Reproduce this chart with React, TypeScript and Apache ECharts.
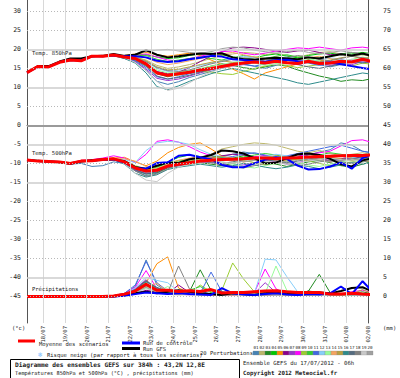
import React, { useEffect, useRef } from 'react';
import * as echarts from 'echarts';

// hours after 17/07/2012 06h
const HOURS = [0, 12, 24, 36, 48, 60, 72, 84, 96, 108, 120, 132, 144, 156, 168, 180, 192, 204, 216, 228, 240, 252, 264, 276, 288, 300, 312, 324, 336, 348, 360, 372, 384];
const DATE_LABELS = ['18/07', '19/07', '20/07', '21/07', '22/07', '23/07', '24/07', '25/07', '26/07', '27/07', '28/07', '29/07', '30/07', '31/07', '01/08', '02/08'];
const LEFT_TICKS = [30, 25, 20, 15, 10, 5, 0, -5, -10, -15, -20, -25, -30, -35, -40, -45];
const PERT_NAMES = ['01', '02', '03', '04', '05', '06', '07', '08', '09', '10', '11', '12', '13', '14', '15', '16', '17', '18', '19', '20'];
const PERT_COLORS = ['#4682b4', '#bdb76b', '#228b22', '#00c800', '#ff8c00', '#8b008b', '#9932cc', '#ff00ff', '#9acd32', '#32cd32', '#4169e1', '#87cefa', '#98fb98', '#f4a460', '#b8a040', '#2e8b8b', '#556b7f', '#808080', '#c8c8c8', '#a0a0a0'];

// Temperature 850 hPa (°C)
const T850_MEAN = [13.9, 15.5, 15.4, 16.6, 17.2, 17.0, 18.2, 18.2, 18.5, 18.0, 17.6, 16.2, 13.8, 13.2, 13.6, 14.0, 14.6, 15.0, 15.5, 16.0, 16.4, 16.7, 16.4, 16.9, 16.5, 16.3, 16.9, 16.3, 16.4, 16.9, 16.7, 17.4, 16.7];
const T850_GFS = [13.9, 15.6, 15.6, 16.8, 17.6, 17.6, 18.2, 18.3, 18.8, 18.3, 18.6, 19.8, 18.6, 17.9, 18.2, 18.6, 18.9, 18.8, 19.0, 17.9, 17.4, 17.3, 17.6, 17.8, 17.6, 17.4, 17.9, 17.6, 18.2, 18.7, 18.4, 18.9, 18.2];
const T850_CTRL = [13.9, 15.4, 15.4, 16.6, 17.2, 17.1, 18.2, 18.2, 18.4, 18.2, 18.2, 17.9, 17.0, 16.7, 16.9, 17.4, 17.8, 18.3, 18.1, 17.4, 17.2, 16.9, 16.7, 17.2, 17.3, 16.9, 16.7, 16.4, 16.6, 16.1, 15.6, 15.1, 14.7];
const T850_PERTS = [
  [13.9, 15.4, 15.5, 16.5, 17.0, 17.2, 18.0, 18.4, 18.3, 17.6, 16.8, 14.5, 11.6, 10.8, 11.5, 12.6, 13.4, 14.2, 15.0, 15.8, 16.2, 15.6, 15.0, 15.8, 16.6, 17.2, 16.8, 16.0, 15.4, 16.0, 16.8, 17.6, 17.0],
  [13.9, 15.5, 15.3, 16.7, 17.3, 17.1, 18.3, 18.0, 18.6, 18.2, 18.0, 17.2, 15.8, 15.0, 15.4, 16.0, 16.8, 17.6, 18.4, 18.8, 19.2, 19.0, 18.6, 19.0, 18.4, 18.0, 18.6, 19.2, 19.4, 18.8, 18.2, 18.6, 18.0],
  [13.9, 15.6, 15.4, 16.6, 17.2, 17.0, 18.2, 18.4, 18.6, 18.2, 17.4, 15.8, 13.6, 12.8, 13.4, 14.2, 14.8, 15.6, 16.2, 15.8, 15.2, 14.8, 15.4, 16.0, 15.6, 14.6, 13.8, 13.0, 12.4, 11.6, 12.0, 11.8, 12.4],
  [13.9, 15.4, 15.5, 16.6, 17.1, 17.0, 18.1, 18.3, 18.4, 18.0, 18.2, 18.6, 18.0, 17.6, 17.8, 18.4, 18.8, 19.0, 18.6, 18.0, 17.6, 17.8, 18.4, 18.8, 18.2, 17.8, 18.4, 18.8, 19.0, 18.6, 18.8, 19.2, 18.8],
  [13.9, 15.5, 15.4, 16.7, 17.3, 17.2, 18.3, 18.2, 18.5, 18.4, 18.8, 19.2, 18.6, 18.2, 18.6, 19.0, 18.4, 17.2, 16.0, 14.8, 13.6, 12.2, 13.8, 14.6, 15.4, 16.2, 16.8, 17.2, 16.6, 16.2, 16.8, 17.4, 17.0],
  [13.9, 15.5, 15.5, 16.6, 17.2, 17.1, 18.2, 18.3, 18.5, 18.1, 17.4, 16.0, 14.2, 13.6, 14.0, 15.2, 16.8, 18.2, 19.4, 20.4, 20.6, 20.4, 20.0, 19.6, 19.2, 19.6, 19.8, 19.2, 18.6, 18.8, 19.2, 18.8, 18.4],
  [13.9, 15.4, 15.4, 16.5, 17.2, 17.0, 18.2, 18.2, 18.4, 17.8, 16.8, 14.8, 12.4, 11.8, 12.2, 13.0, 13.8, 14.6, 15.2, 15.6, 16.0, 16.6, 17.2, 16.8, 16.4, 16.0, 16.6, 16.2, 15.8, 16.4, 16.0, 16.8, 16.2],
  [13.9, 15.5, 15.4, 16.6, 17.2, 17.0, 18.3, 18.1, 18.6, 18.2, 18.4, 18.8, 18.0, 17.2, 17.0, 17.6, 18.2, 18.8, 19.4, 19.6, 19.0, 18.6, 19.0, 19.6, 20.0, 20.4, 20.2, 20.6, 20.2, 19.8, 20.4, 20.6, 20.2],
  [13.9, 15.5, 15.4, 16.6, 17.1, 17.1, 18.2, 18.2, 18.5, 17.9, 17.2, 15.6, 13.8, 13.0, 13.2, 13.8, 14.2, 14.0, 13.6, 13.4, 14.2, 15.0, 15.6, 16.2, 15.8, 15.2, 15.6, 16.0, 16.4, 16.0, 15.6, 16.4, 16.0],
  [13.9, 15.6, 15.5, 16.7, 17.2, 17.0, 18.2, 18.3, 18.5, 18.3, 18.6, 18.4, 17.4, 16.8, 17.2, 17.6, 18.0, 17.6, 17.2, 17.8, 18.4, 18.0, 17.6, 18.2, 18.6, 18.0, 17.4, 17.8, 18.2, 18.8, 19.2, 18.6, 19.0],
  [13.9, 15.4, 15.4, 16.6, 17.2, 17.1, 18.2, 18.2, 18.4, 17.8, 17.0, 15.2, 12.8, 12.2, 12.8, 13.6, 14.2, 15.0, 15.8, 16.4, 16.0, 15.6, 16.2, 16.8, 17.4, 17.0, 16.4, 15.8, 16.2, 16.8, 17.2, 16.6, 17.4],
  [13.9, 15.5, 15.3, 16.5, 17.2, 17.0, 18.1, 18.2, 18.6, 18.1, 17.8, 16.8, 15.0, 14.2, 14.6, 15.2, 15.8, 16.4, 17.0, 17.6, 18.2, 17.8, 17.2, 17.6, 18.0, 17.4, 16.8, 17.2, 17.8, 17.4, 16.8, 17.2, 16.6],
  [13.9, 15.5, 15.4, 16.6, 17.3, 17.1, 18.2, 18.2, 18.5, 18.0, 17.6, 16.4, 14.6, 13.8, 14.0, 14.4, 15.0, 15.6, 16.0, 16.6, 17.0, 16.4, 15.8, 16.2, 16.8, 17.2, 17.6, 17.0, 16.4, 16.8, 17.4, 18.0, 17.4],
  [13.9, 15.4, 15.5, 16.6, 17.2, 17.0, 18.2, 18.3, 18.5, 18.2, 18.4, 17.8, 16.6, 16.0, 16.4, 17.0, 17.6, 18.2, 18.8, 19.2, 18.6, 18.0, 17.6, 17.2, 16.8, 17.2, 17.8, 18.2, 17.6, 17.0, 16.6, 17.2, 16.8],
  [13.9, 15.5, 15.4, 16.6, 17.2, 17.0, 18.2, 18.2, 18.5, 18.1, 17.9, 17.0, 15.4, 14.6, 14.8, 15.4, 16.0, 16.6, 17.0, 16.6, 16.2, 16.8, 17.4, 18.0, 17.6, 17.0, 16.4, 16.8, 17.2, 17.8, 18.2, 17.6, 18.0],
  [13.9, 15.5, 15.4, 16.6, 17.2, 17.0, 18.2, 18.1, 18.4, 17.6, 16.4, 13.8, 10.2, 9.4, 10.4, 11.6, 12.6, 13.6, 14.4, 15.0, 14.4, 13.8, 13.2, 12.6, 12.0, 11.2, 10.8, 11.4, 12.0, 12.6, 13.2, 13.8, 13.4],
  [13.9, 15.5, 15.5, 16.7, 17.2, 17.1, 18.2, 18.2, 18.5, 18.0, 17.2, 15.6, 13.0, 12.2, 12.6, 13.2, 14.0, 14.8, 15.4, 16.0, 16.6, 17.2, 17.6, 17.2, 16.6, 16.0, 15.4, 15.0, 15.6, 16.2, 16.8, 16.4, 17.0],
  [13.9, 15.4, 15.4, 16.6, 17.1, 17.0, 18.2, 18.2, 18.4, 18.0, 17.6, 16.8, 15.2, 14.4, 14.2, 14.6, 15.4, 16.2, 16.8, 17.4, 17.8, 17.4, 16.8, 17.2, 17.8, 18.4, 18.0, 17.4, 17.0, 17.6, 18.2, 17.8, 17.4],
  [13.9, 15.5, 15.4, 16.6, 17.2, 17.0, 18.2, 18.2, 18.5, 17.8, 16.6, 14.4, 11.6, 9.2, 9.8, 11.2, 12.8, 14.0, 15.0, 15.6, 16.2, 16.8, 16.4, 16.0, 16.6, 17.2, 17.0, 16.6, 16.2, 16.8, 17.4, 17.0, 16.6],
  [13.9, 15.5, 15.4, 16.6, 17.2, 17.0, 18.2, 18.3, 18.5, 18.3, 18.8, 19.4, 19.8, 20.0, 19.6, 19.2, 19.0, 19.4, 20.2, 20.6, 20.4, 19.8, 19.4, 19.0, 19.4, 19.8, 19.2, 18.8, 19.2, 19.6, 19.2, 18.8, 19.2],
];

// Temperature 500 hPa (°C)
const T500_MEAN = [-9.1, -9.4, -9.5, -9.6, -10.0, -9.4, -9.3, -9.0, -8.8, -9.6, -11.2, -12.0, -11.8, -10.7, -10.2, -9.8, -9.4, -9.2, -9.0, -8.9, -8.8, -8.6, -8.6, -8.8, -8.6, -8.5, -8.3, -8.2, -8.1, -8.0, -7.9, -7.9, -7.7];
const T500_GFS = [-9.1, -9.3, -9.5, -9.7, -10.1, -9.5, -9.2, -9.0, -8.9, -9.4, -11.0, -11.4, -10.6, -9.8, -9.9, -8.9, -8.5, -7.8, -6.6, -6.8, -7.4, -8.6, -10.0, -9.8, -8.6, -7.6, -7.4, -7.8, -8.8, -10.2, -10.8, -9.2, -8.6];
const T500_CTRL = [-9.1, -9.4, -9.5, -9.6, -10.0, -9.4, -9.3, -9.0, -8.9, -9.8, -11.2, -11.4, -9.9, -9.7, -8.0, -7.7, -8.4, -8.9, -10.4, -11.0, -11.0, -10.0, -9.0, -8.4, -8.8, -10.6, -11.6, -11.5, -10.8, -9.8, -11.4, -8.6, -7.6];
const T500_PERTS = [
  [-9.1, -9.3, -9.6, -9.7, -10.2, -10.0, -10.8, -10.6, -9.6, -10.0, -12.0, -13.2, -12.6, -11.0, -10.4, -9.6, -8.8, -8.4, -8.2, -7.6, -7.0, -7.4, -8.0, -8.6, -9.2, -8.6, -7.8, -7.0, -6.4, -4.6, -5.2, -6.8, -7.4],
  [-9.1, -9.4, -9.4, -9.5, -9.9, -9.3, -9.2, -8.9, -8.6, -9.2, -10.6, -11.4, -11.0, -9.8, -9.2, -8.8, -8.6, -7.6, -6.2, -5.6, -5.0, -4.6, -4.8, -5.2, -6.0, -6.8, -7.2, -6.6, -7.4, -8.0, -7.6, -7.2, -7.8],
  [-9.2, -9.5, -9.6, -9.8, -10.1, -9.5, -9.4, -9.1, -8.9, -9.8, -11.8, -12.8, -12.4, -11.2, -10.6, -10.2, -9.8, -10.2, -10.6, -10.0, -9.4, -9.0, -9.6, -10.2, -10.8, -10.2, -9.6, -9.2, -9.8, -10.6, -11.0, -10.2, -9.4],
  [-9.1, -9.4, -9.5, -9.6, -10.0, -9.4, -9.3, -9.0, -8.8, -9.4, -10.8, -11.6, -11.2, -9.6, -8.4, -7.8, -8.2, -8.8, -9.2, -8.6, -8.0, -8.4, -9.0, -9.4, -8.8, -8.2, -7.6, -8.0, -8.6, -9.0, -8.4, -7.8, -8.2],
  [-9.0, -9.3, -9.4, -9.5, -9.8, -9.2, -9.0, -8.8, -8.6, -8.4, -9.6, -10.6, -9.4, -7.2, -5.8, -5.0, -4.6, -6.2, -8.0, -9.0, -9.6, -9.2, -8.6, -9.0, -9.4, -8.8, -8.4, -8.8, -9.6, -9.2, -8.6, -9.2, -9.8],
  [-9.1, -9.4, -9.5, -9.6, -10.0, -9.5, -9.3, -9.1, -8.9, -9.7, -11.4, -12.2, -11.6, -10.4, -9.8, -9.2, -8.8, -8.6, -8.0, -7.6, -7.8, -8.4, -9.0, -8.6, -8.2, -7.8, -8.2, -8.8, -9.2, -8.8, -8.2, -8.6, -8.0],
  [-9.1, -9.5, -9.6, -9.7, -10.1, -9.4, -9.3, -9.0, -8.8, -9.8, -11.8, -12.6, -12.2, -11.0, -10.6, -10.0, -9.6, -9.8, -10.2, -10.8, -10.4, -9.8, -9.2, -9.6, -10.2, -9.8, -9.2, -8.8, -9.4, -9.0, -8.6, -9.2, -8.8],
  [-9.0, -9.4, -9.5, -9.6, -9.9, -9.2, -9.0, -8.6, -8.0, -8.6, -9.8, -7.6, -4.2, -3.8, -4.4, -5.6, -7.0, -8.0, -8.6, -9.0, -8.6, -8.2, -8.0, -8.4, -8.8, -8.2, -7.6, -7.2, -6.8, -5.4, -4.0, -3.8, -4.6],
  [-9.1, -9.4, -9.5, -9.6, -10.0, -9.4, -9.2, -9.0, -8.8, -9.6, -11.0, -12.0, -11.4, -10.6, -10.0, -9.4, -9.0, -8.8, -8.4, -8.8, -9.2, -9.8, -10.4, -10.0, -9.4, -8.8, -9.4, -10.0, -10.6, -10.2, -9.6, -9.0, -8.6],
  [-9.1, -9.4, -9.5, -9.6, -10.0, -9.4, -9.3, -9.0, -8.8, -9.6, -11.2, -11.8, -11.0, -9.8, -9.4, -9.0, -8.4, -8.0, -8.4, -8.8, -8.4, -7.8, -7.4, -7.8, -8.4, -8.8, -8.4, -7.8, -7.2, -7.6, -8.2, -7.8, -7.4],
  [-9.1, -9.4, -9.6, -9.7, -10.1, -9.5, -9.4, -9.1, -8.9, -9.8, -11.6, -12.4, -12.0, -10.8, -10.0, -9.6, -9.2, -9.0, -8.6, -8.2, -7.6, -7.2, -7.8, -8.4, -8.0, -7.4, -6.8, -6.2, -5.6, -5.2, -6.0, -6.8, -7.2],
  [-9.1, -9.4, -9.5, -9.6, -10.0, -9.3, -9.2, -8.9, -8.7, -9.0, -9.8, -6.6, -4.6, -4.2, -4.4, -5.0, -6.4, -7.6, -8.2, -8.6, -9.0, -8.6, -8.2, -7.6, -8.0, -8.6, -9.2, -8.8, -8.2, -7.8, -8.4, -9.0, -8.6],
  [-9.1, -9.4, -9.5, -9.6, -10.0, -9.4, -9.3, -9.0, -8.8, -9.6, -11.0, -11.8, -11.2, -10.2, -9.6, -9.2, -8.8, -9.2, -9.6, -10.2, -10.8, -11.2, -10.6, -10.0, -9.4, -9.8, -10.4, -10.8, -10.2, -9.6, -9.2, -9.6, -9.0],
  [-9.0, -9.3, -9.4, -9.5, -9.9, -9.3, -9.1, -8.9, -8.7, -8.8, -9.4, -10.8, -11.4, -10.2, -9.2, -8.6, -8.2, -8.6, -9.0, -9.4, -9.0, -8.4, -8.8, -9.2, -8.6, -8.0, -8.6, -9.0, -8.4, -8.0, -8.6, -9.2, -8.8],
  [-9.1, -9.4, -9.5, -9.6, -10.0, -9.4, -9.3, -9.0, -8.8, -9.6, -11.2, -12.0, -11.6, -10.4, -9.8, -9.4, -9.0, -8.6, -8.2, -8.6, -9.0, -8.8, -8.4, -8.0, -8.4, -8.8, -9.2, -8.8, -8.4, -8.8, -9.2, -8.8, -8.4],
  [-9.2, -9.5, -9.6, -9.8, -10.2, -9.6, -9.4, -9.2, -9.0, -10.2, -12.6, -13.6, -13.0, -11.6, -11.0, -10.6, -10.2, -10.6, -11.0, -10.6, -10.0, -10.4, -11.0, -11.4, -11.0, -10.4, -10.8, -11.4, -11.0, -10.4, -9.8, -10.2, -9.6],
  [-9.1, -9.4, -9.5, -9.7, -10.0, -9.4, -9.3, -9.1, -8.9, -9.8, -11.6, -12.8, -12.2, -10.8, -10.2, -9.6, -9.2, -9.6, -10.0, -9.6, -9.0, -8.6, -9.0, -9.4, -9.8, -9.4, -8.8, -8.4, -8.8, -9.2, -8.8, -8.4, -8.8],
  [-9.1, -9.4, -9.5, -9.6, -10.0, -9.4, -9.3, -9.0, -8.8, -9.8, -12.0, -13.4, -12.8, -11.4, -10.4, -9.8, -9.4, -9.8, -10.4, -10.8, -11.2, -10.6, -10.0, -9.6, -10.0, -10.6, -10.2, -9.6, -9.2, -9.6, -10.0, -9.6, -9.2],
  [-9.1, -9.4, -9.6, -9.7, -10.1, -9.5, -9.4, -9.1, -8.9, -10.0, -12.6, -14.4, -14.8, -12.6, -11.0, -10.2, -9.6, -9.2, -9.6, -10.0, -9.4, -9.0, -9.4, -9.8, -10.2, -9.8, -9.4, -9.0, -8.6, -9.0, -9.4, -9.0, -8.8],
  [-9.1, -9.4, -9.5, -9.6, -10.0, -9.4, -9.3, -9.0, -8.8, -9.6, -11.4, -12.4, -12.0, -10.8, -10.2, -9.8, -9.4, -9.0, -8.8, -9.2, -9.6, -9.2, -8.8, -9.2, -9.6, -9.2, -8.8, -9.2, -9.6, -9.2, -8.8, -9.2, -8.6],
];

// Precipitation (mm), drawn on the right scale (0 mm = -45 on the left scale)
const PRECIP_OFFSET = -45;
const PR_MEAN = [0, 0, 0, 0, 0, 0, 0, 0, 0.1, 0.6, 1.4, 3.2, 1.6, 1.6, 1.3, 1.5, 1.3, 1.8, 0.9, 1.0, 1.0, 1.2, 1.4, 1.5, 1.2, 1.0, 1.0, 1.0, 0.6, 0.6, 0.8, 0.6, 0.5];
const PR_GFS = [0, 0, 0, 0, 0, 0, 0, 0, 0, 0.3, 0.8, 1.2, 0.8, 1.2, 1.6, 1.2, 0.8, 0.6, 0.4, 0.8, 0.6, 0.4, 0.8, 1.0, 0.6, 0.8, 1.2, 1.0, 0.8, 1.4, 2.2, 2.4, 1.2];
const PR_CTRL = [0, 0, 0, 0, 0, 0, 0, 0, 0, 0.2, 0.6, 1.0, 0.8, 0.6, 0.8, 0.6, 0.5, 0.4, 2.2, 0.8, 0.5, 0.4, 0.6, 0.8, 0.5, 0.4, 0.6, 0.5, 0.8, 2.6, 0.6, 4.0, 1.0];
const PR_PERTS = [
  [0, 0, 0, 0, 0, 0, 0, 0, 0.2, 0.8, 2.6, 9.6, 3.0, 1.2, 0.6, 0.8, 1.4, 0.6, 0.4, 0.6, 0.3, 0.2, 0.5, 0.8, 0.4, 0.3, 0.6, 0.4, 0.3, 0.5, 0.4, 0.3, 0.4],
  [0, 0, 0, 0, 0, 0, 0, 0, 0.1, 0.4, 1.2, 2.4, 1.0, 0.6, 0.4, 0.5, 0.3, 0.4, 0.6, 0.4, 0.2, 0.3, 0.4, 0.3, 0.2, 0.6, 0.4, 0.3, 0.2, 0.4, 0.3, 0.2, 0.3],
  [0, 0, 0, 0, 0, 0, 0, 0, 0.2, 0.6, 1.8, 4.2, 2.0, 1.0, 0.8, 1.2, 7.0, 1.6, 0.8, 0.6, 0.4, 0.6, 1.0, 0.8, 0.6, 0.8, 1.4, 5.8, 1.0, 0.4, 0.8, 1.2, 0.6],
  [0, 0, 0, 0, 0, 0, 0, 0, 0.1, 0.5, 1.4, 3.0, 1.6, 0.8, 1.0, 0.7, 0.5, 0.6, 1.2, 0.8, 0.5, 0.4, 0.8, 1.6, 0.6, 0.4, 0.6, 0.8, 0.4, 0.3, 0.5, 0.4, 0.6],
  [0, 0, 0, 0, 0, 0, 0, 0, 0.1, 0.4, 1.0, 3.6, 8.6, 10.4, 2.2, 1.0, 0.6, 0.8, 0.4, 0.3, 0.6, 0.5, 0.3, 0.4, 0.6, 0.4, 0.3, 0.5, 0.4, 0.6, 0.3, 0.4, 0.3],
  [0, 0, 0, 0, 0, 0, 0, 0, 0, 0.3, 0.8, 1.6, 1.2, 0.8, 3.0, 1.0, 0.6, 0.4, 0.3, 0.5, 0.4, 0.6, 0.4, 0.3, 0.5, 0.4, 0.3, 0.6, 0.4, 0.3, 0.5, 0.6, 0.4],
  [0, 0, 0, 0, 0, 0, 0, 0, 0.1, 0.6, 2.0, 4.4, 1.4, 0.8, 0.6, 0.4, 0.6, 0.4, 0.5, 0.4, 0.3, 0.8, 3.6, 1.0, 0.4, 0.3, 0.4, 0.6, 0.3, 0.4, 0.3, 0.5, 0.4],
  [0, 0, 0, 0, 0, 0, 0, 0, 0.2, 0.8, 2.4, 6.8, 2.0, 1.0, 0.6, 0.8, 0.5, 0.4, 0.6, 0.4, 0.3, 1.0, 7.2, 2.0, 0.6, 0.4, 0.3, 0.5, 0.8, 0.6, 1.2, 1.6, 1.0],
  [0, 0, 0, 0, 0, 0, 0, 0, 0.1, 0.4, 1.2, 2.8, 1.4, 0.8, 0.6, 0.8, 3.0, 1.2, 1.6, 8.8, 4.6, 1.2, 0.8, 0.6, 0.4, 0.6, 0.4, 0.3, 0.5, 0.4, 0.3, 0.6, 0.4],
  [0, 0, 0, 0, 0, 0, 0, 0, 0.2, 0.6, 1.6, 3.4, 1.8, 1.0, 0.8, 1.6, 2.6, 1.0, 0.6, 0.5, 0.4, 0.6, 0.5, 0.8, 0.6, 0.4, 0.8, 0.6, 0.4, 0.6, 0.5, 0.8, 0.6],
  [0, 0, 0, 0, 0, 0, 0, 0, 0.2, 0.8, 3.0, 9.2, 3.6, 1.4, 0.8, 0.6, 0.8, 6.4, 1.2, 0.6, 0.4, 0.5, 0.4, 0.6, 0.4, 0.6, 0.4, 0.3, 0.4, 0.6, 0.4, 0.3, 0.5],
  [0, 0, 0, 0, 0, 0, 0, 0, 0.1, 0.6, 2.2, 5.0, 4.2, 3.6, 1.2, 0.8, 0.6, 0.5, 0.4, 0.6, 0.5, 0.8, 9.8, 9.6, 5.2, 1.2, 0.6, 0.5, 0.4, 0.6, 0.4, 0.5, 0.4],
  [0, 0, 0, 0, 0, 0, 0, 0, 0.1, 0.4, 1.0, 2.2, 1.2, 2.6, 0.8, 0.6, 0.4, 0.6, 0.8, 0.6, 0.4, 0.6, 0.8, 8.0, 1.6, 0.8, 0.6, 0.4, 0.6, 0.4, 0.6, 0.5, 0.6],
  [0, 0, 0, 0, 0, 0, 0, 0, 0.1, 0.5, 1.4, 2.6, 3.4, 1.2, 0.6, 0.8, 0.6, 0.4, 0.5, 0.4, 0.3, 0.4, 0.6, 0.4, 0.3, 0.5, 0.4, 0.6, 0.4, 0.3, 0.4, 0.6, 0.8],
  [0, 0, 0, 0, 0, 0, 0, 0, 0.1, 0.4, 1.2, 3.2, 1.6, 1.0, 0.8, 0.6, 0.5, 0.4, 0.6, 0.5, 0.4, 0.6, 0.4, 0.5, 0.4, 0.6, 0.5, 0.4, 0.5, 0.4, 0.6, 1.8, 0.6],
  [0, 0, 0, 0, 0, 0, 0, 0, 0.2, 0.6, 1.6, 3.8, 2.4, 1.2, 0.8, 1.0, 0.8, 0.6, 0.4, 0.6, 0.4, 0.5, 0.6, 0.4, 0.5, 0.4, 0.6, 0.4, 0.5, 0.6, 0.4, 0.6, 0.5],
  [0, 0, 0, 0, 0, 0, 0, 0, 0.2, 0.6, 1.8, 4.0, 2.2, 1.4, 1.0, 0.8, 0.6, 0.5, 0.4, 0.5, 0.4, 0.3, 0.5, 0.4, 0.6, 0.4, 0.3, 0.5, 0.4, 0.6, 0.5, 0.4, 0.6],
  [0, 0, 0, 0, 0, 0, 0, 0, 0.1, 0.5, 1.4, 2.8, 1.6, 1.0, 8.0, 2.0, 0.8, 0.6, 0.5, 0.4, 0.6, 0.5, 0.4, 0.6, 0.4, 0.5, 0.4, 0.6, 0.5, 0.4, 0.5, 0.4, 0.5],
  [0, 0, 0, 0, 0, 0, 0, 0, 0.1, 0.4, 1.0, 2.0, 1.4, 0.8, 0.6, 0.5, 0.4, 0.6, 0.5, 0.4, 0.3, 0.5, 0.4, 0.3, 0.4, 0.5, 0.4, 0.3, 0.4, 0.5, 0.4, 0.3, 0.4],
  [0, 0, 0, 0, 0, 0, 0, 0, 0.1, 0.4, 1.2, 2.4, 1.2, 0.8, 1.6, 0.8, 0.6, 0.5, 0.4, 0.6, 0.5, 0.4, 0.6, 0.5, 0.4, 0.6, 0.4, 0.5, 0.6, 0.4, 0.5, 0.6, 0.4],
];

const MONO = "'DejaVu Sans Mono', monospace";
const TXT = '#222';

function pts(vals: number[], off = 0) {
  return HOURS.map((h, i) => [h, vals[i] + off]);
}

function buildOption() {
  const series: any[] = [];
  const hLines: any[] = [];
  LEFT_TICKS.forEach((v) => {
    if (v === 0) {
      hLines.push({ yAxis: v, lineStyle: { color: '#9a9a9a', width: 2, type: 'solid' } });
    } else if ([20, 10, -5, -15, -40].includes(v)) {
      hLines.push({ yAxis: v, lineStyle: { color: '#cccccc', width: 1.5, type: 'solid' } });
    } else {
      hLines.push({ yAxis: v, lineStyle: { color: '#b8b8b8', width: 1, type: [1, 2] } });
    }
  });
  const vLines = DATE_LABELS.slice(0, DATE_LABELS.length - 1).map((_, i) => ({
    xAxis: 18 + 24 * i,
    lineStyle: { color: '#d8d8d8', width: 1, type: 'solid' },
  }));
  series.push({
    type: 'line',
    data: [[0, null]],
    symbol: 'none',
    z: 1,
    silent: true,
    markLine: {
      silent: true,
      symbol: ['none', 'none'],
      label: { show: false },
      animation: false,
      data: [...vLines, ...hLines],
    },
  });

  const addGroup = (perts: number[][], gfs: number[], ctrl: number[], mean: number[], off: number) => {
    perts.forEach((p, i) => {
      series.push({
        type: 'line',
        data: pts(p, off),
        symbol: 'none',
        z: 2,
        silent: true,
        lineStyle: { width: 1, color: PERT_COLORS[i] },
      });
    });
    series.push({ type: 'line', data: pts(gfs, off), symbol: 'none', z: 3, silent: true, lineStyle: { width: 2, color: '#000000' } });
    series.push({ type: 'line', data: pts(ctrl, off), symbol: 'none', z: 3, silent: true, lineStyle: { width: 2, color: '#0000ff' } });
    series.push({ type: 'line', data: pts(mean, off), symbol: 'none', z: 4, silent: true, lineStyle: { width: 3, color: '#ff0000' } });
  };
  addGroup(T850_PERTS, T850_GFS, T850_CTRL, T850_MEAN, 0);
  addGroup(T500_PERTS, T500_GFS, T500_CTRL, T500_MEAN, 0);
  addGroup(PR_PERTS, PR_GFS, PR_CTRL, PR_MEAN, PRECIP_OFFSET);

  const isTick = (v: number) => LEFT_TICKS.includes(v);

  const txt = (text: string, x: number, y: number, size = 5.5, bold = false, fill = TXT) => ({
    type: 'text',
    x,
    y,
    z: 100,
    silent: true,
    style: {
      text,
      fill,
      font: `${bold ? 'bold ' : ''}${size}px ${MONO}`,
      align: 'left',
      verticalAlign: 'middle',
    },
  });

  const graphics: any[] = [
    txt('(°c)', 12, 328, 5.5),
    txt('(mm)', 383, 328, 5.5),
    txt('Temp. 850hPa', 32, 53, 5.5),
    txt('Temp. 500hPa', 32, 153, 5.5),
    txt('Précipitations', 32, 289, 5.5),
    { type: 'line', shape: { x1: 18, y1: 341, x2: 35, y2: 341 }, style: { stroke: '#ff0000', lineWidth: 3 }, z: 100 },
    txt('Moyenne des scénarios', 39, 344),
    { type: 'line', shape: { x1: 122, y1: 343, x2: 140, y2: 343 }, style: { stroke: '#0000ff', lineWidth: 3 }, z: 100 },
    txt('Run de contrôle', 143, 343),
    { type: 'line', shape: { x1: 122, y1: 348.5, x2: 140, y2: 348.5 }, style: { stroke: '#000000', lineWidth: 3 }, z: 100 },
    txt('Run GFS', 143, 349),
    txt('20 Perturbations', 200, 353),
    txt('❄', 38, 355, 7, false, '#7fbfff'),
    txt('Risque neige (par rapport à tous les scénarios)', 47, 355),
    { type: 'rect', shape: { x: 10.5, y: 359.5, width: 229, height: 30 }, style: { fill: 'none', stroke: '#000', lineWidth: 1 }, z: 100 },
    txt('Diagramme des ensembles GEFS sur 384h : 43,2N 12,8E', 15, 364, 6.2, true),
    txt('Températures 850hPa et 500hPa (°C) , précipitations (mm)', 15, 372.5, 5.3),
    txt('Ensemble GEFS du 17/07/2012 - 06h', 243, 363, 5.6),
    txt('Copyright 2012 Meteociel.fr', 243, 373, 5.8, true),
  ];
  PERT_NAMES.forEach((n, i) => {
    graphics.push(txt(n, 253.5 + i * 6, 347.5, 4.2));
    graphics.push({
      type: 'rect',
      shape: { x: 253 + i * 6, y: 351, width: 6, height: 4 },
      style: { fill: PERT_COLORS[i], stroke: '#888', lineWidth: 0.3 },
      z: 100,
    });
  });

  return {
    animation: false,
    backgroundColor: '#ffffff',
    grid: { left: 27, right: 32, top: 0, bottom: 55, containLabel: false },
    xAxis: {
      type: 'value',
      min: 0,
      max: 378,
      interval: 6,
      axisLine: { show: true, lineStyle: { color: '#555', width: 1 } },
      axisTick: { show: false },
      splitLine: { show: false },
      axisLabel: {
        show: true,
        rotate: 90,
        margin: 3,
        fontSize: 5.5,
        fontFamily: MONO,
        color: TXT,
        showMinLabel: false,
        formatter: (v: number) => {
          const k = (v - 18) / 24;
          return Number.isInteger(k) && k >= 0 && k < DATE_LABELS.length ? DATE_LABELS[k] : '';
        },
      },
    },
    yAxis: [
      {
        type: 'value',
        min: -52,
        max: 33,
        interval: 1,
        position: 'left',
        axisLine: { show: true, lineStyle: { color: '#555', width: 1 } },
        axisTick: { show: false },
        splitLine: { show: false },
        axisLabel: {
          margin: 6,
          fontSize: 6.5,
          fontFamily: MONO,
          color: TXT,
          formatter: (v: number) => (isTick(v) ? String(v) : ''),
        },
      },
      {
        type: 'value',
        min: -52,
        max: 33,
        interval: 1,
        position: 'right',
        axisLine: { show: true, lineStyle: { color: '#555', width: 1 } },
        axisTick: { show: false },
        splitLine: { show: false },
        axisLabel: {
          margin: 15,
          fontSize: 6.5,
          fontFamily: MONO,
          color: TXT,
          formatter: (v: number) => (isTick(v) ? String(v + 45) : ''),
        },
      },
    ],
    series,
    graphic: graphics,
  };
}

export default function App() {
  const ref = useRef<HTMLDivElement>(null);
  useEffect(() => {
    if (!ref.current) return;
    const chart = echarts.init(ref.current, null, { renderer: 'svg', width: 400, height: 378 });
    chart.setOption(buildOption() as any);
    return () => chart.dispose();
  }, []);
  return (
    <div
      ref={ref}
      style={{ position: 'absolute', left: 0, top: 0, width: 400, height: 378, background: '#fff' }}
    />
  );
}
